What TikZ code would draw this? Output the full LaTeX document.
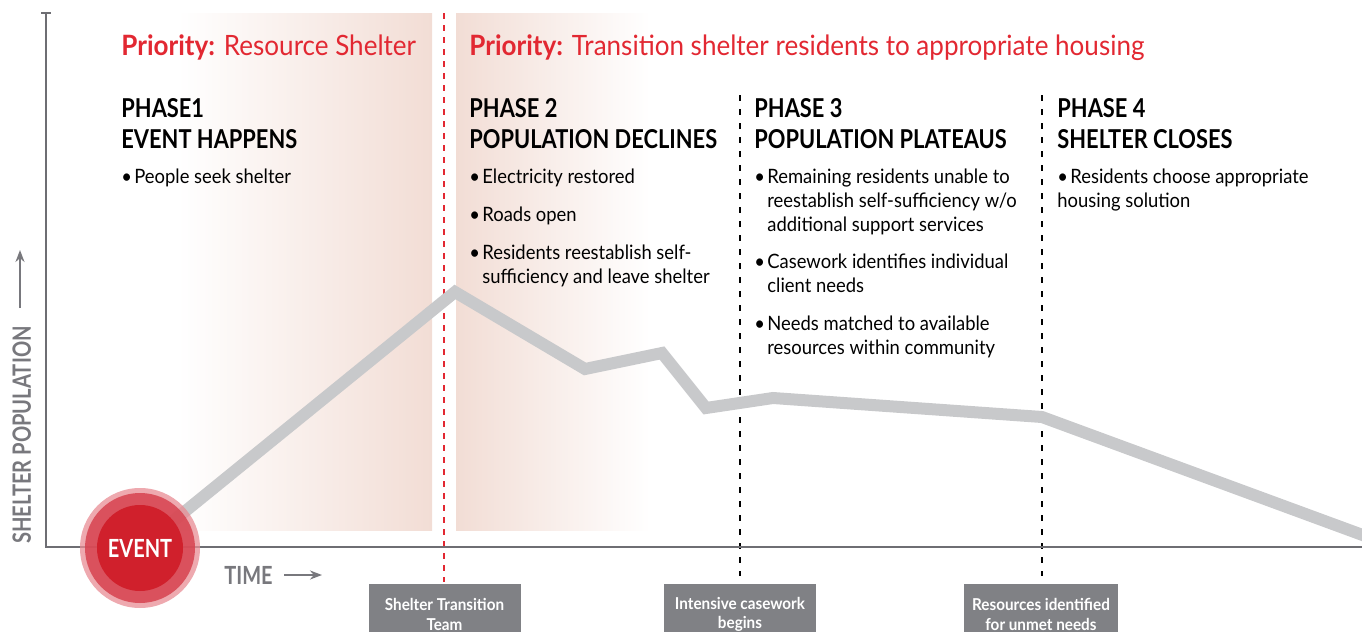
\documentclass[tikz,border=0pt]{standalone}
\usepackage{fontspec}
\setmainfont{Lato}[FakeStretch=0.93]
\newfontfamily\condfont{Lato}[FakeStretch=0.8]
\newfontfamily\headfont{Lato}[FakeStretch=0.84]
\usetikzlibrary{arrows.meta}
\definecolor{pri}{RGB}{226,40,50}
\definecolor{peach}{RGB}{242,221,213}
\definecolor{popline}{RGB}{200,201,203}
\definecolor{axisgray}{RGB}{110,110,115}
\definecolor{labgray}{RGB}{120,120,125}
\definecolor{boxgray}{RGB}{128,129,133}
\definecolor{eventred}{RGB}{208,32,44}
\definecolor{ringmid}{RGB}{214,66,78}
\definecolor{ringout}{RGB}{232,140,148}
\newcommand{\hb}{\makebox[6.5pt][l]{\textbullet}}
\newcommand{\hs}{\hspace*{6.5pt}}
\tikzset{
  prio/.style={anchor=base west, inner sep=0pt, font=\fontsize{14}{16}\selectfont, text=pri},
  phasehead/.style={anchor=base west, inner sep=0pt, align=left, font=\headfont\fontsize{13}{15.5}\bfseries\selectfont},
  bul/.style={anchor=base west, inner sep=0pt, align=left, font=\fontsize{9.9}{12}\selectfont},
  stepdiv/.style={black, line width=1pt, dash pattern=on 3pt off 4pt},
  reddiv/.style={pri, line width=1pt, dash pattern=on 3pt off 3pt},
  markbox/.style={fill=boxgray, text=white, inner sep=0pt, align=center, font=\fontsize{8.2}{9.6}\bfseries\selectfont},
  axisline/.style={axisgray, line width=1.2pt},
}
\begin{document}
\begin{tikzpicture}[x=0.5pt,y=-0.5pt]
\useasboundingbox (0,0) rectangle (1362,632);
% shaded priority regions
\shade[left color=white, right color=peach] (178,13) rectangle (432,530);
\shade[left color=peach, right color=white] (456,13) rectangle (650,530);
% coordinates
\coordinate (ytop) at (46,13);
\coordinate (orig) at (46,547);
\coordinate (xend) at (1362,547);
% divider lines
\coordinate (r1) at (444,13); \coordinate (r2) at (444,582);
\coordinate (d1a) at (740,95); \coordinate (d1b) at (740,576);
\coordinate (d2a) at (1042,95); \coordinate (d2b) at (1042,576);
\draw[reddiv] (r1) -- (r2);
\draw[stepdiv] (d1a) -- (d1b);
\draw[stepdiv] (d2a) -- (d2b);
% axes
\draw[axisline] (ytop) -- (orig) -- (xend);
\draw[axisline] (41,13) -- (51,13);
% population line
\coordinate (p0) at (140,548);
\coordinate (p1) at (455,292);
\coordinate (p2) at (585,369);
\coordinate (p3) at (662,353);
\coordinate (p4) at (706,408);
\coordinate (p5) at (773,398);
\coordinate (p6) at (1042,417);
\coordinate (p7) at (1368,537);
\draw[popline, line width=6pt, line join=miter] (p0) -- (p1) -- (p2) -- (p3) -- (p4) -- (p5) -- (p6) -- (p7);
% event circle
\fill[ringout, opacity=0.75] (140,548) circle[radius=30pt];
\fill[ringmid, opacity=0.85] (140,548) circle[radius=27.5pt];
\node[circle, fill=eventred, minimum size=43pt, inner sep=0pt, text=white, font=\condfont\fontsize{12.5}{14}\bfseries\selectfont] (event) at (140,548) {EVENT};
% axis labels
\node[rotate=90, anchor=base, inner sep=0pt, text=labgray, font=\condfont\fontsize{12.6}{15}\bfseries\selectfont] (ylab) at (31,435) {SHELTER POPULATION};
\coordinate (ua) at (20,308); \coordinate (ub) at (20,250);
\draw[labgray, line width=1pt, -{Stealth[length=6pt,width=4.5pt]}] (ua) -- (ub);
\node[anchor=base west, inner sep=0pt, text=labgray, font=\condfont\fontsize{12.5}{14}\bfseries\selectfont] (tlab) at (224,584) {TIME};
\coordinate (ta) at (284,575); \coordinate (tb) at (322,575);
\draw[labgray, line width=1pt, -{Stealth[length=6pt,width=4.5pt]}] (ta) -- (tb);
% priorities
\node[prio] (prio1) at (121,55) {\textbf{Priority:} Resource Shelter};
\node[prio] (prio2) at (469,55) {\textbf{Priority:} Transition shelter residents to appropriate housing};
% phases (base = last line)
\node[phasehead] (ph1) at (121,148) {PHASE1\\EVENT HAPPENS};
\node[phasehead] (ph2) at (469,148) {PHASE 2\\POPULATION DECLINES};
\node[phasehead] (ph3) at (754,148) {PHASE 3\\POPULATION PLATEAUS};
\node[phasehead] (ph4) at (1057,148) {PHASE 4\\SHELTER CLOSES};
% bullets (base = last line)
\node[bul] (b11) at (121,183) {\hb People seek shelter};
\node[bul] (b21) at (469,183) {\hb Electricity restored};
\node[bul] (b22) at (469,221) {\hb Roads open};
\node[bul] (b23) at (469,283) {\hb Residents reestablish self-\\\hs sufficiency and leave shelter};
\node[bul] (b31) at (754,231) {\hb Remaining residents unable to\\\hs reestablish self-sufficiency w/o\\\hs additional support services};
\node[bul] (b32) at (754,292) {\hb Casework identifies individual\\\hs client needs};
\node[bul] (b33) at (754,354) {\hb Needs matched to available\\\hs resources within community};
\node[bul] (b41) at (1057,207) {\hb Residents choose appropriate\\housing solution};
% bottom boxes
\node[markbox, minimum width=76pt, minimum height=30pt, anchor=north] (m1) at (444.5,584) {Shelter Transition\\Team};
\node[markbox, minimum width=76pt, minimum height=30pt, anchor=north] (m2) at (740,584) {Intensive casework\\begins};
\node[markbox, minimum width=77pt, minimum height=30pt, anchor=north] (m3) at (1041,584) {Resources identified\\for unmet needs};
\end{tikzpicture}
\end{document}
